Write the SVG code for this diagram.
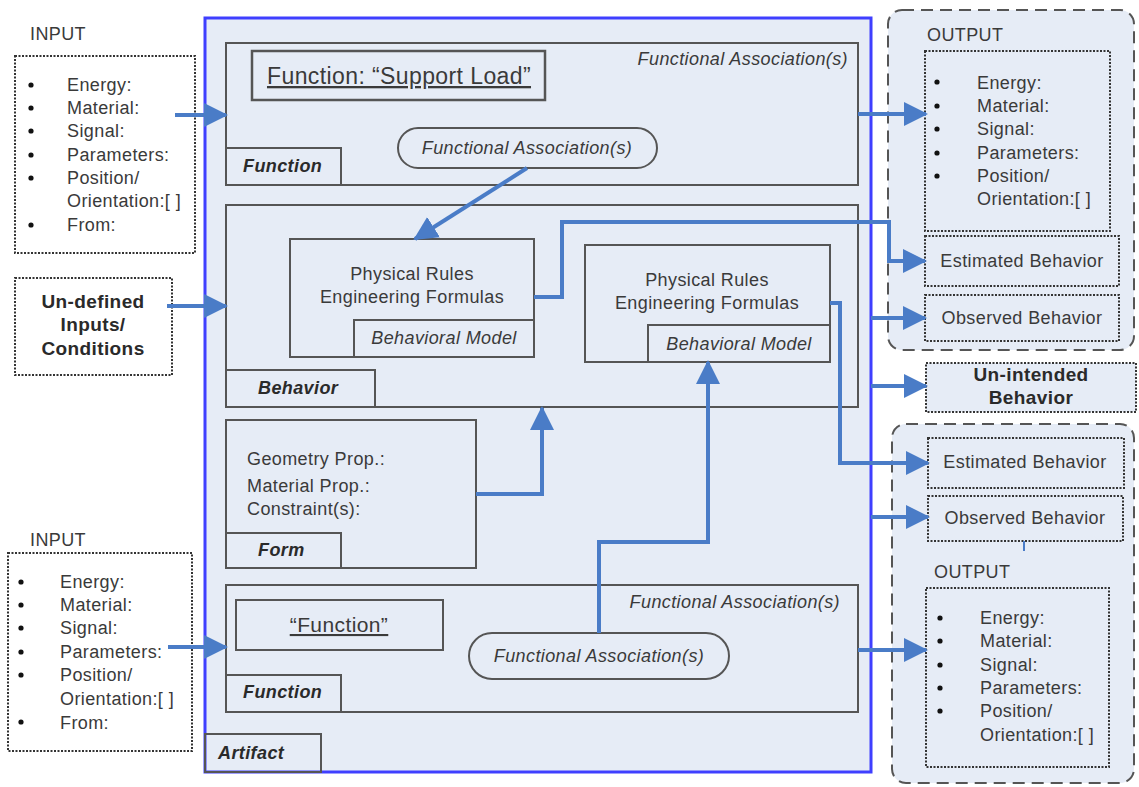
<svg xmlns="http://www.w3.org/2000/svg" width="1139" height="787" viewBox="0 0 1139 787">
  <defs>
    <style>
      text { font-family: "Liberation Sans", Arial, sans-serif; fill: #3a3a3a; font-size: 18px; letter-spacing: 0.4px; }
      .box { fill: none; stroke: #555; stroke-width: 2; }
      .dot { fill: #ffffff; stroke: #333; stroke-width: 2; stroke-dasharray: 2 1.5; }
      .dotb { fill: #e6ecf6; stroke: #333; stroke-width: 2; stroke-dasharray: 2 1.5; }
      .dash { fill: #e6ecf6; stroke: #555; stroke-width: 2; stroke-dasharray: 12 7; }
      .lbl { font-weight: bold; font-style: italic; fill: #2a2a2a; }
      .it { font-style: italic; }
      .b { font-weight: bold; fill: #2a2a2a; font-size: 19px; }
      .mid { text-anchor: middle; }
      .end { text-anchor: end; }
      .u { text-decoration: underline; }
      .flow { fill: none; stroke: #4a7cc7; stroke-width: 4; stroke-linejoin: miter; }
      .bul { fill: #111; }
    </style>
    <marker id="ah" markerWidth="6" markerHeight="6" refX="5.5" refY="3" orient="auto" markerUnits="strokeWidth">
      <path d="M0,0 L6,3 L0,6 Z" fill="#4a7cc7"/>
    </marker>
  </defs>

  <rect width="1139" height="787" fill="#ffffff"/>

  <!-- artifact frame -->
  <g id="artifact">
    <rect x="205" y="18" width="666" height="754" fill="#e6ecf6" stroke="#3f3fff" stroke-width="3"/>
    <rect x="205" y="734" width="116" height="38" class="box"/>
    <text x="218" y="759" class="lbl">Artifact</text>
  </g>

  <!-- upper function -->
  <g id="function-top">
    <rect x="226" y="43" width="632" height="142" class="box"/>
    <rect x="226" y="148" width="115" height="37" class="box"/>
    <text x="243" y="172" class="lbl">Function</text>
    <rect x="252" y="51" width="293" height="49" fill="none" stroke="#555" stroke-width="2.5"/>
    <text x="399" y="84" class="mid u" style="font-size:23px">Function: “Support  Load”</text>
    <text x="848" y="65" class="end it">Functional Association(s)</text>
    <rect x="398" y="128" width="259" height="40" rx="20" class="box"/>
    <text x="527" y="154" class="mid it">Functional Association(s)</text>
  </g>

  <!-- behavior -->
  <g id="behavior">
    <rect x="226" y="205" width="632" height="202" class="box"/>
    <rect x="226" y="370" width="149" height="37" class="box"/>
    <text x="258" y="394" class="lbl">Behavior</text>
  </g>
  <g id="behavioral-model-1">
    <rect x="290" y="239" width="244" height="118" class="box"/>
    <text x="412" y="280" class="mid">Physical Rules</text>
    <text x="412" y="303" class="mid">Engineering Formulas</text>
    <rect x="354" y="320" width="180" height="37" class="box"/>
    <text x="444" y="344" class="mid it">Behavioral Model</text>
  </g>
  <g id="behavioral-model-2">
    <rect x="585" y="245" width="245" height="117" class="box"/>
    <text x="707" y="286" class="mid">Physical Rules</text>
    <text x="707" y="309" class="mid">Engineering Formulas</text>
    <rect x="648" y="325" width="182" height="37" class="box"/>
    <text x="739" y="350" class="mid it">Behavioral Model</text>
  </g>

  <!-- form -->
  <g id="form">
    <rect x="226" y="420" width="250" height="148" class="box"/>
    <text x="247" y="465">Geometry Prop.:</text>
    <text x="247" y="492">Material Prop.:</text>
    <text x="247" y="515">Constraint(s):</text>
    <rect x="226" y="533" width="115" height="35" class="box"/>
    <text x="258" y="556" class="lbl">Form</text>
  </g>

  <!-- lower function -->
  <g id="function-bottom">
    <rect x="226" y="585" width="632" height="127" class="box"/>
    <rect x="226" y="675" width="115" height="37" class="box"/>
    <text x="243" y="698" class="lbl">Function</text>
    <rect x="236" y="600" width="207" height="50" class="box"/>
    <text x="339" y="632" class="mid u" style="font-size:21px">“Function”</text>
    <text x="840" y="608" class="end it">Functional Association(s)</text>
    <rect x="469" y="633" width="260" height="46" rx="23" class="box"/>
    <text x="599" y="662" class="mid it">Functional Association(s)</text>
  </g>

  <!-- inputs -->
  <g id="input-top">
    <text x="30" y="40">INPUT</text>
    <rect x="15" y="56" width="180" height="197" class="dot"/>
    <g class="bul">
      <circle cx="31" cy="85" r="2.6"/><circle cx="31" cy="108" r="2.6"/><circle cx="31" cy="131" r="2.6"/>
      <circle cx="31" cy="155" r="2.6"/><circle cx="31" cy="178" r="2.6"/><circle cx="31" cy="225" r="2.6"/>
    </g>
    <text x="67" y="91">Energy:</text>
    <text x="67" y="114">Material:</text>
    <text x="67" y="137">Signal:</text>
    <text x="67" y="161">Parameters:</text>
    <text x="67" y="184">Position/</text>
    <text x="67" y="207">Orientation:[ ]</text>
    <text x="67" y="231">From:</text>
  </g>

  <g id="undefined-inputs">
    <rect x="15" y="278" width="157" height="97" class="dot"/>
    <text x="93" y="308" class="mid b">Un-defined</text>
    <text x="93" y="331" class="mid b">Inputs/</text>
    <text x="93" y="355" class="mid b">Conditions</text>
  </g>

  <g id="input-bottom">
    <text x="30" y="546">INPUT</text>
    <rect x="8" y="553" width="184" height="198" class="dot"/>
    <g class="bul">
      <circle cx="21" cy="582" r="2.6"/><circle cx="21" cy="605" r="2.6"/><circle cx="21" cy="628" r="2.6"/>
      <circle cx="21" cy="652" r="2.6"/><circle cx="21" cy="675" r="2.6"/><circle cx="21" cy="722" r="2.6"/>
    </g>
    <text x="60" y="588">Energy:</text>
    <text x="60" y="611">Material:</text>
    <text x="60" y="634">Signal:</text>
    <text x="60" y="658">Parameters:</text>
    <text x="60" y="681">Position/</text>
    <text x="60" y="705">Orientation:[ ]</text>
    <text x="60" y="729">From:</text>
  </g>

  <!-- outputs -->
  <g id="output-top">
    <rect x="888" y="10" width="246" height="340" rx="14" class="dash"/>
    <text x="927" y="41">OUTPUT</text>
    <rect x="925" y="51" width="185" height="180" class="dotb"/>
    <g class="bul">
      <circle cx="937" cy="82" r="2.6"/><circle cx="937" cy="106" r="2.6"/><circle cx="937" cy="129" r="2.6"/>
      <circle cx="937" cy="153" r="2.6"/><circle cx="937" cy="176" r="2.6"/>
    </g>
    <text x="977" y="89">Energy:</text>
    <text x="977" y="112">Material:</text>
    <text x="977" y="135">Signal:</text>
    <text x="977" y="159">Parameters:</text>
    <text x="977" y="182">Position/</text>
    <text x="977" y="205">Orientation:[ ]</text>
  </g>
  <g id="estimated-top">
    <rect x="925" y="236" width="194" height="50" class="dotb"/>
    <text x="1022" y="267" class="mid">Estimated  Behavior</text>
  </g>
  <g id="observed-top">
    <rect x="925" y="295" width="194" height="46" class="dotb"/>
    <text x="1022" y="324" class="mid">Observed Behavior</text>
  </g>

  <g id="unintended">
    <rect x="926" y="363" width="210" height="49" class="dotb"/>
    <text x="1031" y="381" class="mid b">Un-intended</text>
    <text x="1031" y="404" class="mid b">Behavior</text>
  </g>

  <g id="output-bottom">
    <rect x="892" y="424" width="242" height="359" rx="14" class="dash"/>
    <text x="934" y="578">OUTPUT</text>
    <rect x="926" y="588" width="183" height="179" class="dotb"/>
    <g class="bul">
      <circle cx="940" cy="618" r="2.6"/><circle cx="940" cy="641" r="2.6"/><circle cx="940" cy="665" r="2.6"/>
      <circle cx="940" cy="688" r="2.6"/><circle cx="940" cy="711" r="2.6"/>
    </g>
    <text x="980" y="624">Energy:</text>
    <text x="980" y="647">Material:</text>
    <text x="980" y="671">Signal:</text>
    <text x="980" y="694">Parameters:</text>
    <text x="980" y="717">Position/</text>
    <text x="980" y="741">Orientation:[ ]</text>
  </g>
  <g id="estimated-bottom">
    <rect x="928" y="438" width="196" height="50" class="dotb"/>
    <text x="1025" y="468" class="mid">Estimated  Behavior</text>
  </g>
  <g id="observed-bottom">
    <rect x="928" y="496" width="195" height="45" class="dotb"/>
    <text x="1025" y="524" class="mid">Observed Behavior</text>
    <line x1="1024" y1="541" x2="1024" y2="551" stroke="#4a7cc7" stroke-width="2"/>
  </g>

  <!-- connectors -->
  <g id="connectors">
    <path class="flow" marker-end="url(#ah)" d="M175,115 H226"/>
    <path class="flow" marker-end="url(#ah)" d="M167,306 H226"/>
    <path class="flow" marker-end="url(#ah)" d="M168,647 H226"/>
    <path class="flow" marker-end="url(#ah)" d="M858,114 H926"/>
    <path class="flow" marker-end="url(#ah)" d="M527,168 L415,239"/>
    <path class="flow" marker-end="url(#ah)" d="M534,297 H562 V222 H889 V261 H925"/>
    <path class="flow" marker-end="url(#ah)" d="M830,303 H840 V463 H928"/>
    <path class="flow" marker-end="url(#ah)" d="M871,318 H925"/>
    <path class="flow" marker-end="url(#ah)" d="M871,386 H926"/>
    <path class="flow" marker-end="url(#ah)" d="M871,517 H928"/>
    <path class="flow" marker-end="url(#ah)" d="M858,650 H926"/>
    <path class="flow" marker-end="url(#ah)" d="M476,494 H542 V408"/>
    <path class="flow" marker-end="url(#ah)" d="M599,633 V542 H708 V362"/>
  </g>
</svg>
